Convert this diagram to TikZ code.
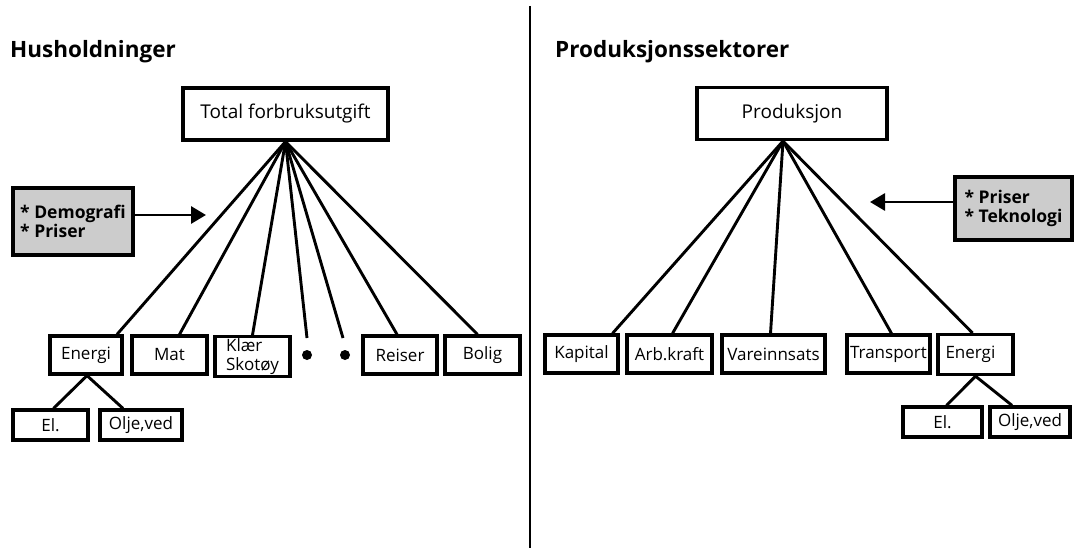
\documentclass[tikz,border=0pt]{standalone}
\usepackage{fontspec}
\setmainfont{Open Sans}
\usetikzlibrary{arrows.meta,calc,positioning}

\begin{document}
\begin{tikzpicture}[x=1pt,y=-1pt,
    box/.style={draw,line width=3.2pt,minimum height=38pt,inner sep=2pt,font=\fontsize{17}{18}\selectfont},
    smallbox/.style={box,minimum height=30pt},
    topbox/.style={box,minimum height=52pt,font=\fontsize{19}{20}\selectfont},
    factorbox/.style={draw,line width=3.2pt,fill=gray!40,align=left,inner sep=3pt,font=\bfseries\fontsize{17.5}{19}\selectfont},
    link/.style={line width=2.9pt},
    heading/.style={anchor=base west,inner sep=0pt,font=\bfseries\fontsize{22.5}{24}\selectfont},
    dot/.style={circle,fill,inner sep=0pt,minimum size=10pt}]
\useasboundingbox (0,0) rectangle (1075,548);

% divider
\coordinate (divtop) at (530,6);
\coordinate (divbot) at (530,548);
\draw[line width=2.4pt] (divtop) -- (divbot);

% headings
\node[heading] (hhead) at (10,58) {Husholdninger};
\node[heading] (phead) at (555,58) {Produksjonssektorer};

% households
\node[topbox,minimum width=205pt] (tot) at (285.5,114) {Total forbruksutgift};
\coordinate (apexH) at (tot.south);
\node[factorbox,minimum width=120pt,minimum height=67pt] (demo) at (73,221.5) {* Demografi\\* Priser};
\coordinate (demoend) at (206,215);
\draw[link,-{Triangle[length=15pt,width=17pt]}] (demo.east |- demoend) -- (demoend);

\foreach \name/\x/\w/\txt in {hEnergi/86/72/Energi, hMat/169.5/75/Mat, hReiser/400/74/Reiser, hBolig/482.5/75/Bolig}
    \node[box,minimum width=\w pt] (\name) at (\x,355) {\txt};
\node[box,minimum width=75pt,minimum height=40pt,align=left,anchor=north,font=\fontsize{17}{19}\selectfont,inner ysep=0pt] (hKlaer) at (252.5,335) {Klær\\Skotøy};
\node[dot] (dotA) at (307,355) {};
\node[dot] (dotB) at (345,355) {};
\coordinate (dotAend) at (307,338);
\coordinate (dotBend) at (343,338);

\foreach \name/\dx in {hEnergi/31, hMat/10, hKlaer/0, hReiser/-3, hBolig/-5}
    \draw[link] (apexH) -- ($(\name.north)+(\dx,0)$);
\draw[link] (apexH) -- (dotAend);
\draw[link] (apexH) -- (dotBend);

\node[smallbox,minimum width=75pt] (hEl) at (50.5,425) {El.};
\node[smallbox,minimum width=82pt] (hOlje) at (141,425) {Olje,ved};
\draw[link] ($(hEnergi.south)+(1,0)$) -- ($(hEl.north)+(3,0)$);
\draw[link] ($(hEnergi.south)+(1,0)$) -- ($(hOlje.north)+(-18,0)$);

% production sectors
\node[topbox,minimum width=190pt] (prod) at (792,113.5) {Produksjon};
\coordinate (apexP) at ($(prod.south)+(-9,0)$);
\node[factorbox,minimum width=117pt,minimum height=63pt] (tek) at (1013.5,208.5) {* Priser\\* Teknologi};
\coordinate (tekend) at (870,202);
\draw[link,-{Triangle[length=15pt,width=17pt]}] (tek.west |- tekend) -- (tekend);

\foreach \name/\x/\w/\txt in {pKapital/581.5/73/Kapital, pArb/669.5/85/Arb.kraft, pVare/773.5/103/Vareinnsats, pTransport/888.5/83/Transport}
    \node[box,minimum width=\w pt] (\name) at (\x,354) {\txt};
\node[box,minimum width=75pt,minimum height=40pt,text width=60pt,align=left,anchor=north,inner ysep=6pt] (pEnergi) at (975.5,333) {Energi};

\foreach \name/\dx in {pKapital/31, pArb/3, pVare/-3, pTransport/3, pEnergi/-3}
    \draw[link] (apexP) -- ($(\name.north)+(\dx,0)$);

\node[smallbox,minimum width=79pt] (pEl) at (942.5,422) {El.};
\node[smallbox,minimum width=80pt] (pOlje) at (1030,422) {Olje,ved};
\draw[link] (pEnergi.south) -- ($(pEl.north)+(4,0)$);
\draw[link] (pEnergi.south) -- ($(pOlje.north)+(-18,0)$);
\end{tikzpicture}
\end{document}
